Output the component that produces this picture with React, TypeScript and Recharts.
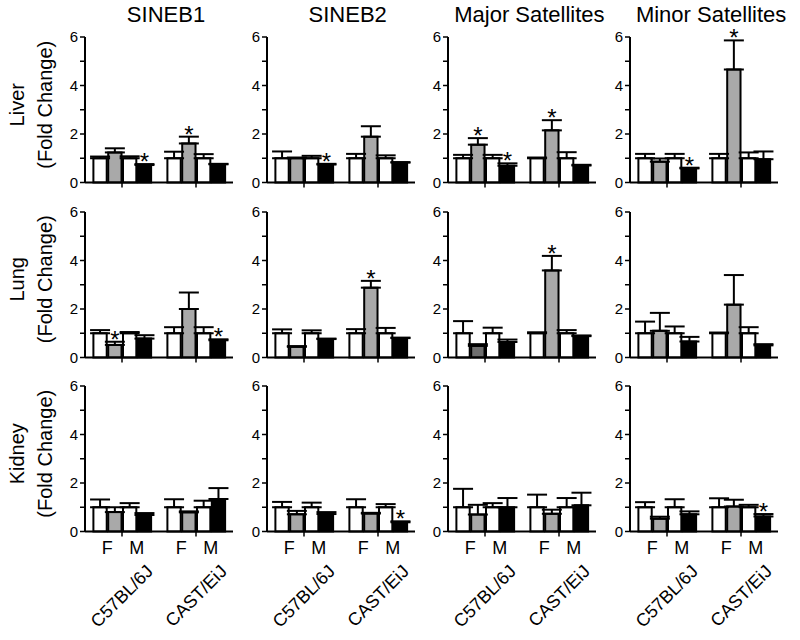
import React from 'react';
import { BarChart, Bar, XAxis, YAxis, ErrorBar, Cell, LabelList } from 'recharts';

// ---------- categories ----------
const TISSUES = ['Liver', 'Lung', 'Kidney'];
const ELEMENTS = ['SINEB1', 'SINEB2', 'Major Satellites', 'Minor Satellites'];
const STRAINS = ['C57BL/6J', 'CAST/EiJ'];
const SEXES = ['F', 'M'];
const TREATMENTS = ['control', 'treated'];
const Y_TICKS = [0, 1, 2, 3, 4, 5, 6];

// ---------- values (order: C57 F ctrl, C57 F trt, C57 M ctrl, C57 M trt, CAST F ctrl, CAST F trt, CAST M ctrl, CAST M trt) ----------
// rows follow ELEMENTS order
const LIVER_MEAN = [
  [1.0, 1.24, 1.0, 0.72, 1.0, 1.61, 1.0, 0.75],
  [1.0, 1.0, 1.0, 0.74, 1.0, 1.89, 1.0, 0.82],
  [1.0, 1.56, 1.0, 0.69, 1.0, 2.15, 1.0, 0.7],
  [1.0, 0.86, 1.0, 0.58, 1.0, 4.66, 1.0, 0.96],
];
const LIVER_SEM = [
  [0.07, 0.17, 0.08, 0.04, 0.27, 0.28, 0.17, 0.02],
  [0.28, 0.03, 0.1, 0.03, 0.18, 0.43, 0.12, 0.02],
  [0.14, 0.27, 0.14, 0.1, 0.03, 0.42, 0.25, 0.03],
  [0.18, 0.13, 0.18, 0.03, 0.18, 1.2, 0.24, 0.32],
];
const LIVER_SIG = [
  [0, 0, 0, 1, 0, 1, 0, 0],
  [0, 0, 0, 1, 0, 0, 0, 0],
  [0, 1, 0, 1, 0, 1, 0, 0],
  [0, 0, 0, 1, 0, 1, 0, 0],
];

const LUNG_MEAN = [
  [1.0, 0.52, 1.0, 0.78, 1.0, 2.0, 1.0, 0.71],
  [1.0, 0.44, 1.0, 0.76, 1.0, 2.88, 1.0, 0.8],
  [1.0, 0.48, 1.0, 0.64, 1.0, 3.59, 1.0, 0.88],
  [1.0, 1.1, 1.0, 0.66, 1.0, 2.18, 1.0, 0.5],
];
const LUNG_SEM = [
  [0.13, 0.13, 0.05, 0.14, 0.25, 0.68, 0.25, 0.04],
  [0.16, 0.03, 0.12, 0.02, 0.17, 0.28, 0.22, 0.02],
  [0.5, 0.07, 0.23, 0.1, 0.04, 0.6, 0.13, 0.03],
  [0.48, 0.74, 0.28, 0.19, 0.03, 1.22, 0.25, 0.05],
];
const LUNG_SIG = [
  [0, 1, 0, 0, 0, 0, 0, 1],
  [0, 0, 0, 0, 0, 1, 0, 0],
  [0, 0, 0, 0, 0, 1, 0, 0],
  [0, 0, 0, 0, 0, 0, 0, 0],
];

const KIDNEY_MEAN = [
  [1.0, 0.8, 1.0, 0.68, 1.0, 0.79, 1.0, 1.34],
  [1.0, 0.71, 1.0, 0.72, 1.0, 0.74, 1.0, 0.38],
  [1.0, 0.7, 1.0, 1.0, 1.0, 0.73, 1.0, 1.08],
  [1.0, 0.53, 1.0, 0.71, 1.0, 1.03, 1.0, 0.62],
];
const KIDNEY_SEM = [
  [0.32, 0.2, 0.17, 0.08, 0.33, 0.04, 0.27, 0.45],
  [0.22, 0.14, 0.19, 0.08, 0.33, 0.03, 0.13, 0.04],
  [0.76, 0.4, 0.17, 0.38, 0.52, 0.17, 0.38, 0.52],
  [0.21, 0.08, 0.33, 0.12, 0.37, 0.28, 0.1, 0.1],
];
const KIDNEY_SIG = [
  [0, 0, 0, 0, 0, 0, 0, 0],
  [0, 0, 0, 0, 0, 0, 0, 1],
  [0, 0, 0, 0, 0, 0, 0, 0],
  [0, 0, 0, 0, 0, 0, 0, 1],
];

const MEANS = [LIVER_MEAN, LUNG_MEAN, KIDNEY_MEAN];
const SEMS = [LIVER_SEM, LUNG_SEM, KIDNEY_SEM];
const SIGS = [LIVER_SIG, LUNG_SIG, KIDNEY_SIG];

// ---------- styles ----------
const FONT = '"Liberation Sans", Arial, Helvetica, sans-serif';
const WHITE = '#ffffff';
const GRAY = '#a9a9a9';
const DARK_GRAY = '#6f6f6f';
const BLACK = '#000000';
// one bar in the reference is printed in a darker grey
const SHADE_OVERRIDE = { tissue: 1, element: 2, bar: 1, fill: DARK_GRAY };

// ---------- layout ----------
const COL_X = 85;
const COL_STEP = 181.7;
const PLOT_W = 148;
const ROW_Y = 37;
const ROW_STEP = 174.5;
const PLOT_H = 145.5;
const YAXIS_W = 40;
const M_LEFT = 5;
const M_RIGHT = 5;
const M_TOP = 25;

// slot positions on a numeric category scale (gap slot between strains)
const SLOTS_PER_STRAIN = SEXES.length * TREATMENTS.length + 1;
const X_DOMAIN = [0, STRAINS.length * SLOTS_PER_STRAIN];
const STRAIN_TICKS = STRAINS.map((_, s) => s * SLOTS_PER_STRAIN + (SEXES.length * TREATMENTS.length + 1) / 2);
const SEX_TICKS = STRAINS.flatMap((_, s) => SEXES.map((_, x) => s * SLOTS_PER_STRAIN + x * TREATMENTS.length + 1.5));
const ALL_X_TICKS = [...SEX_TICKS, ...STRAIN_TICKS].sort((a, b) => a - b);

function buildRows(t: number, e: number) {
  const means = MEANS[t][e];
  const sems = SEMS[t][e];
  const sigs = SIGS[t][e];
  return means.map((v, i) => {
    const strain = Math.floor(i / (SEXES.length * TREATMENTS.length));
    const sex = Math.floor(i / TREATMENTS.length) % SEXES.length;
    const trt = i % TREATMENTS.length;
    return {
      x: strain * SLOTS_PER_STRAIN + sex * TREATMENTS.length + trt + 1,
      v,
      err: [0, sems[i]],
      sem: sems[i],
      sig: sigs[i],
      sex,
      trt,
    };
  });
}

function fillFor(t: number, e: number, i: number, r: any) {
  if (SHADE_OVERRIDE.tissue === t && SHADE_OVERRIDE.element === e && SHADE_OVERRIDE.bar === i) return SHADE_OVERRIDE.fill;
  if (r.trt === 0) return WHITE;
  return r.sex === 0 ? GRAY : BLACK;
}

// custom x tick: strain ticks get a tick mark (+ rotated strain name on the bottom row),
// sex ticks get the F / M letter on the bottom row
const XTick = (props: any) => {
  const { x, y, payload, showLabels } = props;
  const v = payload.value;
  const sIdx = STRAIN_TICKS.indexOf(v);
  if (sIdx >= 0) {
    const ax = x + 32;
    const ay = y + 41;
    return (
      <g>
        <line x1={x} y1={y} x2={x} y2={y + 5} stroke="#000" strokeWidth={1.5} />
        {showLabels && (
          <text
            x={ax}
            y={ay}
            textAnchor="end"
            fontSize={18}
            fontFamily={FONT}
            fill="#000"
            transform={`rotate(-45 ${ax} ${ay})`}
          >
            {STRAINS[sIdx]}
          </text>
        )}
      </g>
    );
  }
  const xIdx = SEX_TICKS.indexOf(v);
  if (xIdx >= 0 && showLabels) {
    return (
      <text x={x} y={y + 10} dy="0.72em" textAnchor="middle" fontSize={18} fontFamily={FONT} fill="#000">
        {SEXES[xIdx % SEXES.length]}
      </text>
    );
  }
  return <g />;
};

function Panel({ t, e }: { t: number; e: number }) {
  const rows = buildRows(t, e);
  const bottomRow = t === TISSUES.length - 1;
  const mb = bottomRow ? 105 : 10;
  const left = COL_X + e * COL_STEP - YAXIS_W - M_LEFT;
  const top = ROW_Y + t * ROW_STEP - M_TOP;
  const width = M_LEFT + YAXIS_W + PLOT_W + M_RIGHT;
  const height = M_TOP + PLOT_H + mb + 1;

  const renderStar = (p: any) => {
    const r = rows[p.index];
    if (!r || !r.sig) return null;
    const pxPerUnit = p.height / r.v;
    const errTop = p.y - r.sem * pxPerUnit;
    return (
      <text
        key={`s${p.index}`}
        x={p.x + p.width / 2}
        y={errTop + 6}
        textAnchor="middle"
        fontSize={24}
        fontFamily={FONT}
        fill="#000"
      >
        *
      </text>
    );
  };

  return (
    <div style={{ position: 'absolute', left, top }}>
      <BarChart
        width={width}
        height={height}
        data={rows}
        margin={{ top: M_TOP, right: M_RIGHT, bottom: mb, left: M_LEFT }}
        barGap={0}
        barCategoryGap={0}
      >
        <XAxis
          dataKey="x"
          type="number"
          domain={X_DOMAIN}
          ticks={ALL_X_TICKS}
          interval={0}
          allowDataOverflow
          height={1}
          tickSize={0}
          tickMargin={0}
          axisLine={{ stroke: '#000', strokeWidth: 2 }}
          tickLine={false}
          tick={<XTick showLabels={bottomRow} />}
        />
        <YAxis
          type="number"
          domain={[0, 6]}
          ticks={Y_TICKS}
          interval={0}
          width={YAXIS_W}
          tickSize={5}
          axisLine={{ stroke: '#000', strokeWidth: 2 }}
          tickLine={{ stroke: '#000', strokeWidth: 1.5 }}
          tick={{ fontSize: 15, fontFamily: FONT, fill: '#000' }}
          tickFormatter={(v: number) => (v % 2 === 0 ? String(v) : '')}
        />
        <Bar dataKey="v" barSize={15} stroke="#000" strokeWidth={2} isAnimationActive={false}>
          {rows.map((r, i) => (
            <Cell key={i} fill={fillFor(t, e, i, r)} />
          ))}
          <ErrorBar dataKey="err" direction="y" width={10} stroke="#000" strokeWidth={2} isAnimationActive={false} />
          <LabelList dataKey="sig" content={renderStar} />
        </Bar>
      </BarChart>
    </div>
  );
}

export default function App() {
  return (
    <div
      style={{
        position: 'absolute',
        left: 0,
        top: 0,
        width: 800,
        height: 640,
        background: '#fff',
        overflow: 'hidden',
      }}
    >
      <svg width={800} height={640} style={{ position: 'absolute', left: 0, top: 0 }}>
        {ELEMENTS.map((name, e) => (
          <text
            key={name}
            x={COL_X + e * COL_STEP + PLOT_W / 2 + 7}
            y={22}
            textAnchor="middle"
            fontSize={22}
            fontFamily={FONT}
            fill="#000"
          >
            {name}
          </text>
        ))}
        {TISSUES.map((name, t) => {
          const cy = ROW_Y + t * ROW_STEP + PLOT_H / 2 - 5;
          return (
            <g key={name}>
              <text
                x={24}
                y={cy}
                textAnchor="middle"
                fontSize={20}
                fontFamily={FONT}
                fill="#000"
                transform={`rotate(-90 24 ${cy})`}
              >
                {name}
              </text>
              <text
                x={52}
                y={cy}
                textAnchor="middle"
                fontSize={20}
                fontFamily={FONT}
                fill="#000"
                transform={`rotate(-90 52 ${cy})`}
              >
                (Fold Change)
              </text>
            </g>
          );
        })}
      </svg>
      {TISSUES.map((_, t) => ELEMENTS.map((__, e) => <Panel key={`${t}-${e}`} t={t} e={e} />))}
    </div>
  );
}
